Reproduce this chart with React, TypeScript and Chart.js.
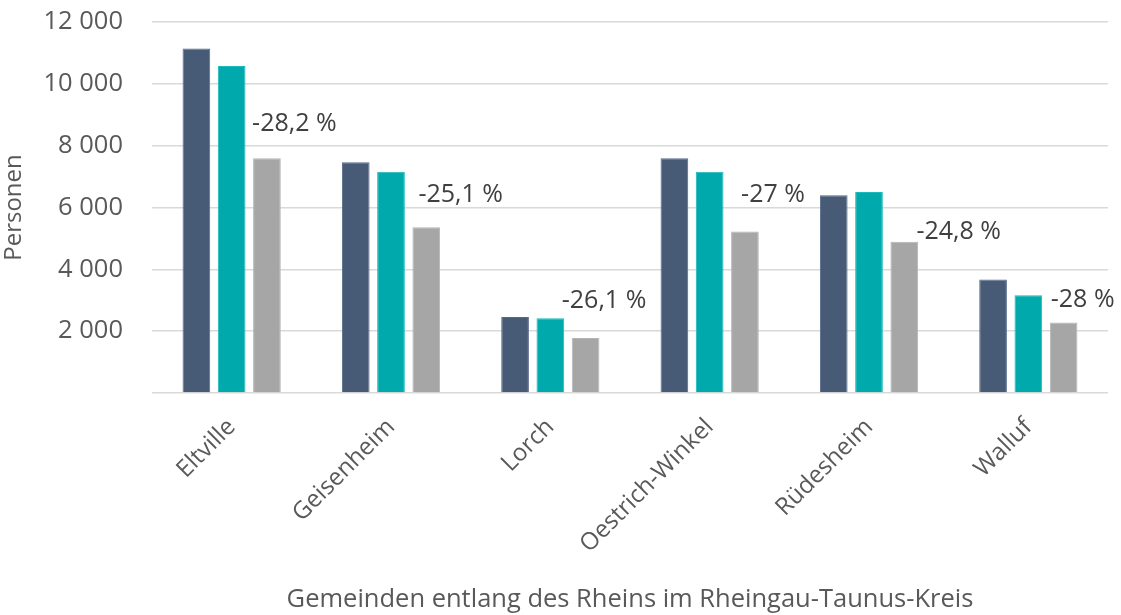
import React, { useEffect, useRef } from "react";
import { Chart, registerables } from "chart.js";

Chart.register(...registerables);

const categories = ["Eltville", "Geisenheim", "Lorch", "Oestrich-Winkel", "Rüdesheim", "Walluf"];
const series1 = [11140, 7460, 2460, 7590, 6400, 3670];
const series2 = [10580, 7160, 2420, 7160, 6500, 3160];
const series3 = [7590, 5360, 1780, 5220, 4890, 2280];
const changeLabels = ["-28,2 %", "-25,1 %", "-26,1 %", "-27 %", "-24,8 %", "-28 %"];
const yTicks = [0, 2000, 4000, 6000, 8000, 10000, 12000];

// label placement relative to the grey bar's top-left corner (dx, dy in px)
const labelOffsetX = [-1, 6, -10, 10, 26, 1];
const labelOffsetY = [-34, -32, -37, -37, -10, -23];

const FONT = "'Open Sans', 'Noto Sans', sans-serif";

const changeLabelPlugin = {
  id: "changeLabels",
  afterDatasetsDraw(chart: any) {
    const meta = chart.getDatasetMeta(2);
    const ctx = chart.ctx;
    ctx.save();
    ctx.font = `25px ${FONT}`;
    ctx.fillStyle = "#404040";
    ctx.textAlign = "left";
    ctx.textBaseline = "middle";
    meta.data.forEach((el: any, i: number) => {
      const left = el.x - el.width / 2;
      ctx.fillText(changeLabels[i], left + labelOffsetX[i], el.y + labelOffsetY[i]);
    });
    ctx.restore();
  },
};

function formatThousands(v: number) {
  if (v === 0) return "";
  return String(v).replace(/\B(?=(\d{3})+(?!\d))/g, " ");
}

export default function App() {
  const ref = useRef<HTMLCanvasElement>(null);
  useEffect(() => {
    document.body.style.margin = "0";
    const chart = new Chart(ref.current!, {
      type: "bar",
      data: {
        labels: categories,
        datasets: [
          { label: "Reihe 1", data: series1, backgroundColor: "#475b76", borderColor: "#56698a", borderWidth: 1 },
          { label: "Reihe 2", data: series2, backgroundColor: "#00a9ab", borderColor: "#1cb8ba", borderWidth: 1 },
          { label: "Reihe 3", data: series3, backgroundColor: "#a6a6a6", borderColor: "#b4b4b4", borderWidth: 1 },
        ],
      },
      options: {
        responsive: false,
        animation: false,
        layout: { padding: { top: 22, right: 13, left: 0, bottom: 0 } },
        datasets: { bar: { categoryPercentage: 0.664, barPercentage: 0.785 } },
        plugins: { legend: { display: false }, tooltip: { enabled: false } },
        scales: {
          x: {
            grid: { display: false },
            border: { display: false },
            ticks: {
              color: "#595959",
              font: { family: FONT, size: 24 },
              maxRotation: 45,
              minRotation: 45,
              padding: 12,
            },
            title: {
              display: true,
              text: "Gemeinden entlang des Rheins im Rheingau-Taunus-Kreis",
              color: "#595959",
              font: { family: FONT, size: 25.5 },
              padding: { top: 0, bottom: 0 },
            },
            afterFit: (scale: any) => {
              scale.height = 222;
            },
          },
          y: {
            min: 0,
            max: 12000,
            afterBuildTicks: (scale: any) => {
              scale.ticks = yTicks.map((v) => ({ value: v }));
            },
            grid: { color: "#d9d9d9", lineWidth: 1.5, drawTicks: false },
            border: { display: false },
            ticks: {
              color: "#595959",
              font: { family: FONT, size: 25.5 },
              padding: 29,
              callback: (v: any) => formatThousands(Number(v)),
            },
            title: {
              display: true,
              text: "Personen",
              color: "#595959",
              font: { family: FONT, size: 24 },
              padding: { top: 0, bottom: 0 },
            },
            afterFit: (scale: any) => {
              scale.width = 152;
              scale.paddingTop = 0;
              scale.paddingBottom = 0;
            },
          },
        },
      },
      plugins: [changeLabelPlugin],
    });
    return () => chart.destroy();
  }, []);
  return (
    <div style={{ position: "absolute", left: 0, top: 0, width: 1121, height: 615 }}>
      <canvas ref={ref} width={1121} height={615} style={{ display: "block" }} />
    </div>
  );
}
